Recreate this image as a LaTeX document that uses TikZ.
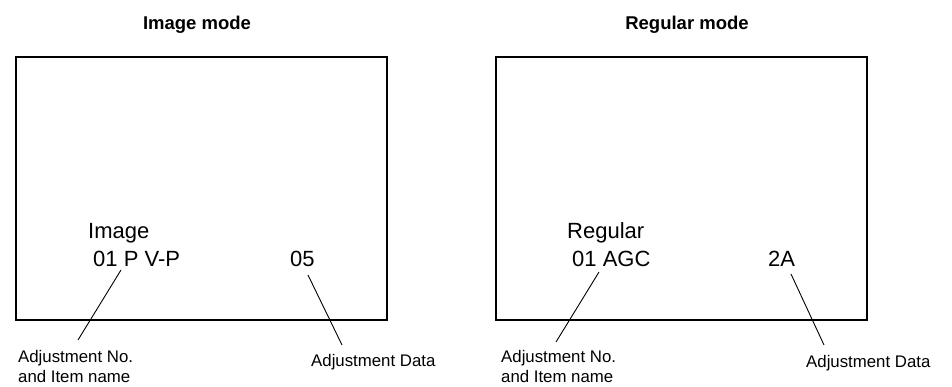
\documentclass[tikz,border=0pt]{standalone}
\usepackage{fontspec}
\setmainfont{Liberation Sans}
\begin{document}
\begin{tikzpicture}[x=1pt,y=-1pt,
    screen/.style={line width=1.6pt},
    lead/.style={line width=0.9pt},
    title/.style={anchor=base,inner sep=0pt,font=\fontsize{18.5}{22}\selectfont\bfseries},
    osd/.style={anchor=base west,inner sep=0pt,font=\fontsize{22}{26}\selectfont},
    tag/.style={anchor=base west,inner sep=0pt,align=left,font=\fontsize{16.8}{19.5}\selectfont}]
    \useasboundingbox (0,0) rectangle (952,386);
    % Image mode
    \node[title] (titleImg) at (197,29) {Image mode};
    \draw[screen] (16,57) rectangle (387,320);
    \node[osd] (modeImg) at (88,238) {Image};
    \node[osd] (itemImg) at (93,266) {01 P V-P};
    \node[osd] (dataImg) at (290,266) {05};
    \node[tag] (tagItemImg) at (18,382) {Adjustment No.\\and Item name};
    \node[tag] (tagDataImg) at (311,366) {Adjustment Data};
    \coordinate (a1) at (121,270);
    \coordinate (a2) at (78,340);
    \coordinate (b1) at (308,275);
    \coordinate (b2) at (342,345);
    \draw[lead] (a1)--(a2);
    \draw[lead] (b1)--(b2);
    % Regular mode
    \node[title] (titleReg) at (687,29) {Regular mode};
    \draw[screen] (496,57) rectangle (867,320);
    \node[osd] (modeReg) at (567,238) {Regular};
    \node[osd] (itemReg) at (572,266) {01 AGC};
    \node[osd] (dataReg) at (768,266) {2A};
    \node[tag] (tagItemReg) at (501,382) {Adjustment No.\\and Item name};
    \node[tag] (tagDataReg) at (806,367) {Adjustment Data};
    \coordinate (c1) at (599,272);
    \coordinate (c2) at (556,342);
    \coordinate (d1) at (791,274);
    \coordinate (d2) at (824,345);
    \draw[lead] (c1)--(c2);
    \draw[lead] (d1)--(d2);
\end{tikzpicture}
\end{document}
